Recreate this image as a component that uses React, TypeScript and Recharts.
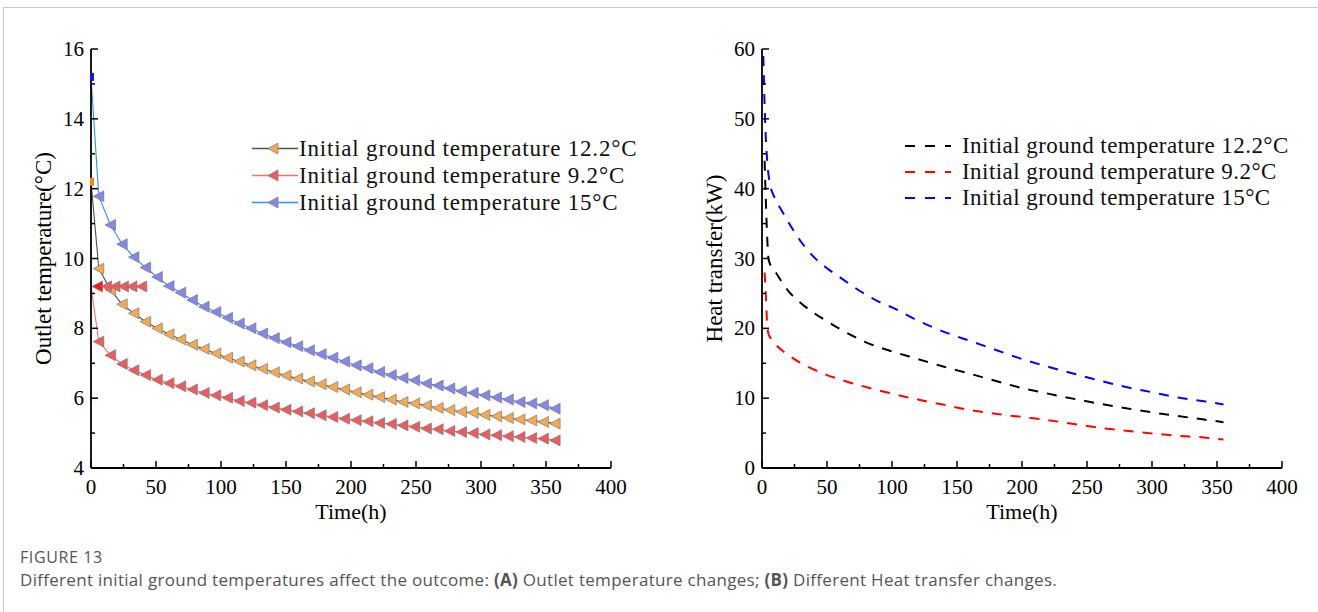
import React from "react";
import { LineChart, Line, XAxis, YAxis, Legend } from "recharts";

// (A) outlet temperature, sampled every 9 h after start
const outletTimes = [
  0, 6, 15, 24, 33, 42, 51, 60, 69, 78, 87, 96, 105, 114, 123, 132, 141, 150, 159, 168, 177,
  186, 195, 204, 213, 222, 231, 240, 249, 258, 267, 276, 285, 294, 303, 312, 321, 330, 339, 348, 357,
];
const outlet122 = [
  12.2, 9.71, 9.1, 8.69, 8.43, 8.19, 8.0, 7.83, 7.68, 7.53, 7.41, 7.28, 7.16, 7.05, 6.94, 6.84, 6.74,
  6.65, 6.56, 6.48, 6.4, 6.32, 6.25, 6.17, 6.1, 6.03, 5.96, 5.89, 5.85, 5.79, 5.72, 5.66, 5.61, 5.58,
  5.52, 5.48, 5.43, 5.39, 5.36, 5.32, 5.27,
];
const outlet92 = [
  9.2, 7.62, 7.23, 6.98, 6.8, 6.66, 6.53, 6.43, 6.34, 6.25, 6.15, 6.08, 6.01, 5.92, 5.87, 5.8, 5.73,
  5.67, 5.62, 5.57, 5.51, 5.46, 5.41, 5.37, 5.34, 5.29, 5.26, 5.22, 5.18, 5.13, 5.11, 5.06, 5.03, 5.0,
  4.96, 4.94, 4.91, 4.89, 4.86, 4.84, 4.79,
];
const outlet15 = [
  15.2, 11.78, 10.96, 10.41, 10.04, 9.74, 9.47, 9.21, 9.02, 8.81, 8.62, 8.47, 8.3, 8.14, 8.0, 7.85,
  7.72, 7.6, 7.49, 7.37, 7.26, 7.16, 7.05, 6.94, 6.86, 6.75, 6.66, 6.58, 6.51, 6.42, 6.36, 6.28, 6.2,
  6.15, 6.08, 6.02, 5.96, 5.89, 5.85, 5.8, 5.7,
];
// early 9.2 °C points of the cold run
const plateauTimes = [5, 12, 18.5, 25, 31.5, 39];
const plateau92 = [9.2, 9.2, 9.2, 9.2, 9.2, 9.2];

// (B) heat transfer
const heatTimes = [
  1, 2, 3, 4, 5, 6, 10, 15, 20, 30, 40, 50, 60, 70, 80, 90, 100, 120, 140, 160, 180, 200, 220, 240,
  260, 280, 300, 320, 340, 355,
];
const heat122 = [
  null, 44, 38, 33, 30, 29.3, 28.2, 26.7, 25.4, 23.6, 22.2, 21.0, 19.9, 18.9, 18.0, 17.3, 16.7, 15.6,
  14.5, 13.5, 12.45, 11.45, 10.65, 9.9, 9.2, 8.56, 7.97, 7.44, 6.94, 6.56,
];
const heat92 = [
  null, 28, 24.5, 20.5, 19.2, 18.8, 17.8, 16.9, 16.2, 15.0, 14.1, 13.3, 12.7, 12.1, 11.6, 11.1, 10.65,
  9.8, 9.05, 8.3, 7.75, 7.3, 6.85, 6.3, 5.75, 5.35, 4.95, 4.62, 4.38, 4.08,
];
const heat15 = [
  59, 52, 47, 44, 42, 40.8, 38.6, 36.9, 35.3, 32.4, 30.2, 28.6, 27.3, 26.0, 24.8, 23.8, 23.0, 21.1,
  19.5, 18.2, 16.9, 15.6, 14.5, 13.5, 12.5, 11.6, 10.85, 10.1, 9.55, 9.1,
];

const seriesNames = [
  "Initial ground temperature 12.2°C",
  "Initial ground temperature 9.2°C",
  "Initial ground temperature 15°C",
];

const timeTicks = [0, 25, 50, 75, 100, 125, 150, 175, 200, 225, 250, 275, 300, 325, 350, 375, 400];
const outletTicks = [4, 5, 6, 7, 8, 9, 10, 11, 12, 13, 14, 15, 16];
const heatTicks = [0, 5, 10, 15, 20, 25, 30, 35, 40, 45, 50, 55, 60];

const SERIF = "'Liberation Serif', 'Times New Roman', serif";
const LEGEND_FONT = "'Liberation Serif', serif";

const outletRows = outletTimes.map((t, i) => ({
  t,
  a: outlet122[i],
  b: outlet92[i],
  c: outlet15[i],
}));
const plateauRows = plateauTimes.map((t, i) => ({ t, v: plateau92[i] }));
const heatRows = heatTimes.map((t, i) => ({
  t,
  a: heat122[i],
  b: heat92[i],
  c: heat15[i],
}));

const markerStyle = [
  { line: "#505050", fill: "#f7a94f", edge: "#ec8a12" },
  { line: "#ff6e6e", fill: "#ec5c5e", edge: null },
  { line: "#2f8ef2", fill: "#8585ea", edge: "#1616d6" },
];

// left-pointing triangle; the start point is a thin bar
const triangleDot = (fill: string, edge: string | null, firstFill?: string) =>
  function Dot(props: any) {
    const { cx, cy, index, payload } = props;
    if (cx == null || cy == null) return <g key={index} />;
    if (payload.t === 0) {
      if (!edge) return <g key={index} />;
      return <rect key={index} x={cx - 1} y={cy - 4} width={4} height={8} fill={edge} />;
    }
    const f = index === 0 && firstFill ? firstFill : fill;
    return (
      <path
        key={index}
        d={`M${cx - 5.5},${cy} L${cx + 5},${cy - 5.5} L${cx + 5},${cy + 5.5} Z`}
        fill={f}
        stroke="#7a7a7a"
        strokeWidth={0.7}
      />
    );
  };

const makeYTick = (every: number) =>
  function YTick(props: any) {
    const { x, y, payload } = props;
    const major = payload.value % every === 0;
    return (
      <g>
        <line x1={x} y1={y} x2={x + (major ? 7 : 4)} y2={y} stroke="#000" strokeWidth={1.5} />
        {major && (
          <text
            x={x - 7}
            y={y}
            textAnchor="end"
            dominantBaseline="central"
            fontFamily={SERIF}
            fontSize={21}
            fill="#000"
          >
            {payload.value}
          </text>
        )}
      </g>
    );
  };

function XTick(props: any) {
  const { x, y, payload } = props;
  const major = payload.value % 50 === 0;
  return (
    <g>
      <line x1={x} y1={y} x2={x} y2={y - (major ? 7 : 4)} stroke="#000" strokeWidth={1.5} />
      {major && (
        <text
          x={x}
          y={y + 19}
          textAnchor="middle"
          dominantBaseline="central"
          fontFamily={SERIF}
          fontSize={21}
          fill="#000"
        >
          {payload.value}
        </text>
      )}
    </g>
  );
}

const yTitle = (text: string, dx: number) =>
  function YTitle(props: any) {
    const vb = props.viewBox;
    const cx = vb.x + dx;
    const cy = vb.y + vb.height / 2;
    return (
      <text
        x={cx}
        y={cy}
        transform={`rotate(-90, ${cx}, ${cy})`}
        textAnchor="middle"
        dominantBaseline="central"
        fontFamily={SERIF}
        fontSize={23}
        fill="#000"
      >
        {text}
      </text>
    );
  };

function XTitle(props: any) {
  const vb = props.viewBox;
  return (
    <text
      x={vb.x + vb.width / 2}
      y={vb.y + 43}
      textAnchor="middle"
      dominantBaseline="central"
      fontFamily={SERIF}
      fontSize={22}
      fill="#000"
    >
      Time(h)
    </text>
  );
}

function MarkerLegend() {
  return (
    <div>
      {seriesNames.map((name, i) => (
        <div key={name} style={{ display: "flex", alignItems: "center", height: 27 }}>
          <svg width={46} height={27}>
            <line x1={0} y1={13.5} x2={46} y2={13.5} stroke={markerStyle[i].line} strokeWidth={1.3} />
            <path
              d="M16,13.5 L26,8 L26,19 Z"
              fill={markerStyle[i].fill}
              stroke="#7a7a7a"
              strokeWidth={0.7}
            />
          </svg>
          <span style={{ fontFamily: LEGEND_FONT, fontSize: 23, letterSpacing: 0.8, color: "#111", whiteSpace: "nowrap", marginLeft: 1 }}>
            {name}
          </span>
        </div>
      ))}
    </div>
  );
}

const dashColors = ["#000000", "#ff0000", "#0000ff"];

function DashLegend() {
  return (
    <div>
      {seriesNames.map((name, i) => (
        <div key={name} style={{ display: "flex", alignItems: "center", height: 26 }}>
          <svg width={46} height={26}>
            <line x1={0} y1={13} x2={46} y2={13} stroke={dashColors[i]} strokeWidth={2} strokeDasharray="10 10" />
          </svg>
          <span style={{ fontFamily: LEGEND_FONT, fontSize: 23, letterSpacing: 0.45, color: "#111", whiteSpace: "nowrap", marginLeft: 11 }}>
            {name}
          </span>
        </div>
      ))}
    </div>
  );
}

function OutletChart() {
  return (
    <LineChart width={660} height={540} margin={{ top: 49, right: 49, bottom: 32, left: 41 }}>
      <XAxis
        dataKey="t"
        type="number"
        domain={[0, 400]}
        ticks={timeTicks}
        interval={0}
        tickSize={0}
        tickMargin={0}
        tick={XTick}
        height={40}
        stroke="#000"
        strokeWidth={1.8}
        allowDuplicatedCategory={false}
        label={{ content: XTitle }}
      />
      <YAxis
        type="number"
        domain={[4, 16]}
        ticks={outletTicks}
        interval={0}
        tickSize={0}
        tickMargin={0}
        tick={makeYTick(2)}
        width={50}
        stroke="#000"
        strokeWidth={1.8}
        label={{ content: yTitle("Outlet temperature(°C)", 2) }}
      />
      <Legend
        layout="vertical"
        align="center"
        verticalAlign="middle"
        content={MarkerLegend}
        wrapperStyle={{ left: 252, top: 135, width: 420 }}
      />
      <Line
        data={outletRows}
        dataKey="a"
        name={seriesNames[0]}
        stroke={markerStyle[0].line}
        strokeWidth={1.1}
        dot={triangleDot(markerStyle[0].fill, markerStyle[0].edge)}
        activeDot={false}
        isAnimationActive={false}
      />
      <Line
        data={outletRows}
        dataKey="c"
        name={seriesNames[2]}
        stroke={markerStyle[2].line}
        strokeWidth={1.1}
        dot={triangleDot(markerStyle[2].fill, markerStyle[2].edge)}
        activeDot={false}
        isAnimationActive={false}
      />
      <Line
        data={outletRows}
        dataKey="b"
        name={seriesNames[1]}
        stroke={markerStyle[1].line}
        strokeWidth={1.1}
        dot={triangleDot(markerStyle[1].fill, markerStyle[1].edge)}
        activeDot={false}
        isAnimationActive={false}
      />
      <Line
        data={plateauRows}
        dataKey="v"
        stroke="none"
        legendType="none"
        dot={triangleDot(markerStyle[1].fill, null, "#ff1a1a")}
        activeDot={false}
        isAnimationActive={false}
      />
    </LineChart>
  );
}

function HeatChart() {
  return (
    <LineChart data={heatRows} width={658} height={540} margin={{ top: 49, right: 36, bottom: 32, left: 52 }}>
      <XAxis
        dataKey="t"
        type="number"
        domain={[0, 400]}
        ticks={timeTicks}
        interval={0}
        tickSize={0}
        tickMargin={0}
        tick={XTick}
        height={40}
        stroke="#000"
        strokeWidth={1.8}
        label={{ content: XTitle }}
      />
      <YAxis
        type="number"
        domain={[0, 60]}
        ticks={heatTicks}
        interval={0}
        tickSize={0}
        tickMargin={0}
        tick={makeYTick(10)}
        width={50}
        stroke="#000"
        strokeWidth={1.8}
        label={{ content: yTitle("Heat transfer(kW)", 2) }}
      />
      <Legend
        layout="vertical"
        align="center"
        verticalAlign="middle"
        content={DashLegend}
        wrapperStyle={{ left: 245, top: 133, width: 410 }}
      />
      {(["a", "b", "c"] as const).map((k, i) => (
        <Line
          key={k}
          dataKey={k}
          name={seriesNames[i]}
          stroke={dashColors[i]}
          strokeWidth={2}
          strokeDasharray="10 9"
          type="monotone"
          dot={false}
          activeDot={false}
          isAnimationActive={false}
        />
      ))}
    </LineChart>
  );
}

export default function App() {
  return (
    <div
      style={{
        position: "absolute",
        left: 0,
        top: 0,
        width: 1318,
        height: 612,
        background: "#fff",
        overflow: "hidden",
      }}
    >
      <div
        style={{
          position: "absolute",
          left: 3,
          top: 7,
          width: 1330,
          height: 620,
          borderTop: "1px solid #c8c8c8",
          borderLeft: "1px solid #c8c8c8",
        }}
      />
      <div style={{ position: "absolute", left: 0, top: 0 }}>
        <OutletChart />
      </div>
      <div style={{ position: "absolute", left: 660, top: 0 }}>
        <HeatChart />
      </div>
      <div
        style={{
          position: "absolute",
          left: 20,
          top: 546,
          fontFamily: "'Open Sans', sans-serif",
          color: "#555",
        }}
      >
        <div style={{ fontSize: 16, lineHeight: "22px", letterSpacing: 0.6 }}>FIGURE 13</div>
        <div style={{ fontSize: 17, lineHeight: "24px", letterSpacing: 0.3, whiteSpace: "nowrap" }}>
          Different initial ground temperatures affect the outcome: <b>(A)</b> Outlet temperature changes;{" "}
          <b>(B)</b> Different Heat transfer changes.
        </div>
      </div>
    </div>
  );
}
